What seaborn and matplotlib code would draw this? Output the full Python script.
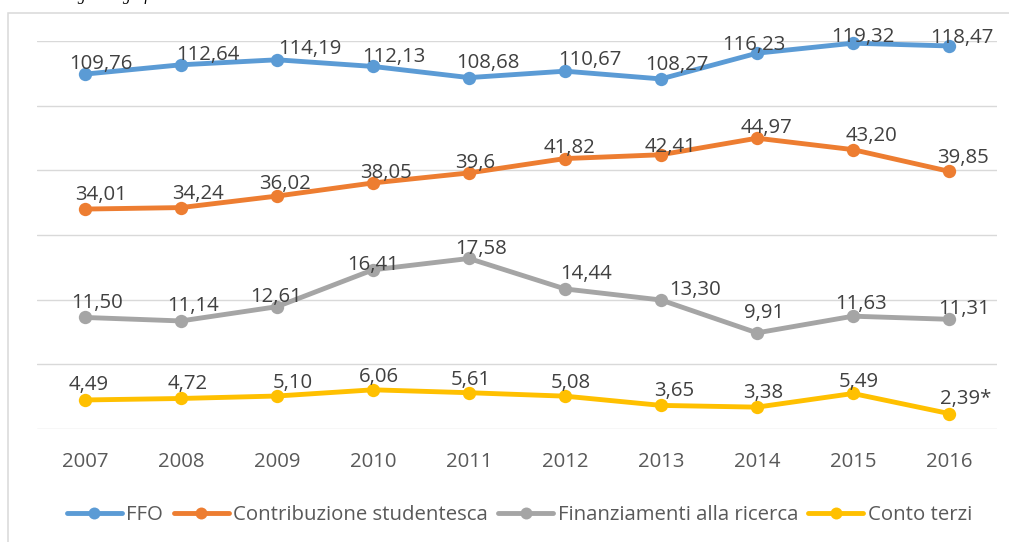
import matplotlib
matplotlib.use("Agg")
import matplotlib.pyplot as plt
from matplotlib.lines import Line2D
from matplotlib.patches import Rectangle
import seaborn as sns
import pandas as pd

# ---------------- data ----------------
years = ["2007", "2008", "2009", "2010", "2011", "2012", "2013", "2014", "2015", "2016"]
series_names = ["FFO", "Contribuzione studentesca", "Finanziamenti alla ricerca", "Conto terzi"]
ffo = [109.76, 112.64, 114.19, 112.13, 108.68, 110.67, 108.27, 116.23, 119.32, 118.47]
contribuzione = [34.01, 34.24, 36.02, 38.05, 39.6, 41.82, 42.41, 44.97, 43.20, 39.85]
finanziamenti = [11.50, 11.14, 12.61, 16.41, 17.58, 14.44, 13.30, 9.91, 11.63, 11.31]
conto_terzi = [4.49, 4.72, 5.10, 6.06, 5.61, 5.08, 3.65, 3.38, 5.49, 2.39]
label_override = {("Contribuzione studentesca", "2011"): "39,6",
                  ("Conto terzi", "2016"): "2,39*"}

# ---------------- display settings ----------------
# each series is drawn on the shared axis with its own display factor
display_factor = {"FFO": 0.5, "Contribuzione studentesca": 1.0,
                  "Finanziamenti alla ricerca": 1.5, "Conto terzi": 1.0}
colors = {"FFO": "#5B9BD5", "Contribuzione studentesca": "#ED7D31",
          "Finanziamenti alla ricerca": "#A5A5A5", "Conto terzi": "#FFC000"}
# label offsets in pixels (dx right, dy up to text centre)
label_dx = {
    "FFO": [15.8, 27.2, 32.7, 20.7, 19.2, 24.7, 15.7, -2.7, 10.2, 12.7],
    "Contribuzione studentesca": [16, 17, 8, 12.7, 6.2, 4, 9.7, 9.3, 18.4, 14.4],
    "Finanziamenti alla ricerca": [12.2, 12.5, -0.5, -0.1, 12, 21.2, 33.7, 7.5, 8, 15],
    "Conto terzi": [3.5, 6.4, 16.2, 6, 2, 5.7, 13, 5.8, 6, 16.7],
}
label_dy = {
    "FFO": [12.5, 12.2, 12.8, 12, 17.2, 13.4, 16.3, 10.8, 8.3, 10],
    "Contribuzione studentesca": [16.8, 16.3, 14.2, 11.9, 12.5, 13.1, 10, 12.5, 15.8, 15.9],
    "Finanziamenti alla ricerca": [16.5, 17.3, 12, 7.5, 11.8, 16.8, 12.2, 21.8, 14.5, 12.5],
    "Conto terzi": [17.5, 17, 15.5, 15.5, 14.7, 15.5, 16.5, 16.1, 13.8, 16.8],
}

values = {"FFO": ffo, "Contribuzione studentesca": contribuzione,
          "Finanziamenti alla ricerca": finanziamenti, "Conto terzi": conto_terzi}

rows = []
for s in series_names:
    for i, (y, v) in enumerate(zip(years, values[s])):
        rows.append({"pos": i, "year": y, "series": s, "value": v,
                     "plot_y": v * display_factor[s]})
df = pd.DataFrame(rows)

# ---------------- figure ----------------
sns.set_theme(style="white")
plt.rcParams["font.family"] = ["Open Sans", "DejaVu Sans"]

DPI = 100
W, H = 1009, 542
fig = plt.figure(figsize=(W / DPI, H / DPI), dpi=DPI)
fig.patch.set_facecolor("white")
PX = 72.0 / DPI  # points per pixel

ax = fig.add_axes([37 / W, 1 - 429 / H, 960 / W, 388 / H])
ax.set_facecolor("white")

sns.lineplot(data=df, x="pos", y="plot_y", hue="series", hue_order=series_names,
             palette=colors, marker="o", markersize=9.6, markeredgewidth=0,
             linewidth=3.5, errorbar=None, sort=False, legend=False, ax=ax)
for ln in ax.lines:
    ln.set_solid_capstyle("round")
    ln.set_solid_joinstyle("round")
    ln.set_clip_on(False)

FS = 14.7
cap_half = 0.714 * FS / PX / 2.0  # half digit height in px
for s in series_names:
    for i, (y, v) in enumerate(zip(years, values[s])):
        txt = label_override.get((s, y), f"{v:.2f}".replace(".", ","))
        ax.annotate(txt, (i, v * display_factor[s]),
                    xytext=(label_dx[s][i] * PX, (label_dy[s][i] - cap_half) * PX),
                    textcoords="offset points", ha="center", va="baseline",
                    fontsize=FS, color="#404040", zorder=5, annotation_clip=False)

ax.set_xlim(-0.5, len(years) - 0.5)
ax.set_ylim(0, 60)
ax.set_xticks(range(len(years)))
ax.set_xticklabels(years)
ax.set_yticks(range(0, 61, 10))
ax.set_yticklabels([])
ax.tick_params(axis="x", length=0, pad=16.5, labelsize=FS, labelcolor="#595959")
ax.tick_params(axis="y", length=0)
ax.yaxis.grid(True, color="#D9D9D9", linewidth=1.0)
ax.xaxis.grid(False)
ax.set_axisbelow(True)
for sp in ax.spines.values():
    sp.set_visible(False)
ax.set_xlabel("")
ax.set_ylabel("")

# legend
handles = [Line2D([0], [0], color=colors[s], lw=3.5, marker="o", markersize=8.6,
                  markeredgewidth=0, solid_capstyle="round") for s in series_names]
fig.legend(handles, series_names, loc="center", bbox_to_anchor=(519.5 / W, 1 - 515 / H),
           ncol=4, frameon=False, fontsize=FS, labelcolor="#595959",
           handlelength=2.7, handletextpad=0.22, columnspacing=0.5,
           borderaxespad=0, borderpad=0)

# chart border (extends beyond the crop on right/bottom)
fig.patches.append(Rectangle((7.5 / W, -0.2), 1.2, 1.2 - 12.5 / H, transform=fig.transFigure,
                             fill=False, edgecolor="#D9D9D9", linewidth=1.1, zorder=0))

# document text cut by the top edge of the crop (only descenders show)
fig.text(-3 / W, 1 - 0.5 / H, "presenta il seguente grafico", fontsize=11.2,
         family=["Liberation Serif", "DejaVu Serif"], style="italic", color="black",
         va="baseline", ha="left")

fig.savefig("out.png", dpi=DPI, facecolor="white")
